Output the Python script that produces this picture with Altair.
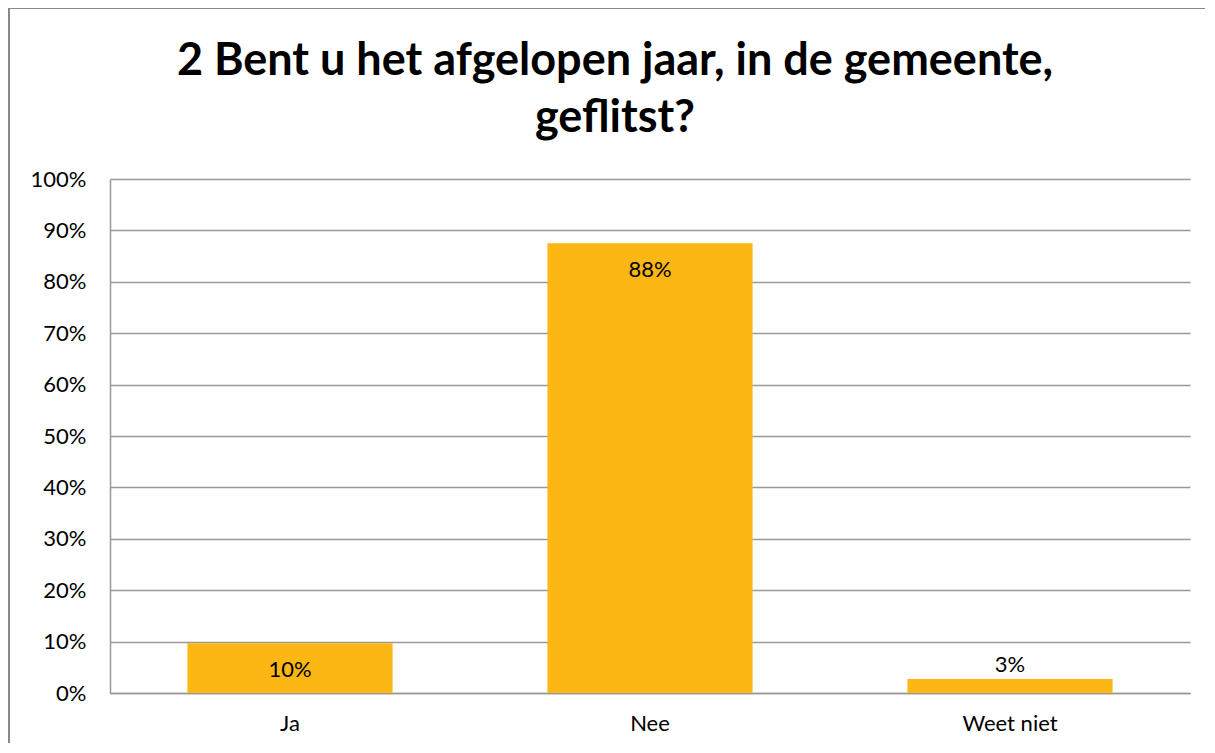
import altair as alt
import pandas as pd

categories = ["Ja", "Nee", "Weet niet"]
values = [0.097, 0.875, 0.027]
labels = ["10%", "88%", "3%"]
title_lines = ["2 Bent u het afgelopen jaar, in de gemeente,", "geflitst?"]

df = pd.DataFrame({"cat": categories, "value": values, "label": labels})

W, H = 1080, 514
FONT = "Lato"
BAR = "#FDB714"

x = alt.X("cat:N", sort=categories, title=None,
          scale=alt.Scale(paddingInner=0.43, paddingOuter=0.215),
          axis=alt.Axis(labelAngle=0, labelFontSize=22, labelFont=FONT, labelColor="#000",
                        labelPadding=20, ticks=False, domainColor="#999", domainWidth=1.5))
y = alt.Y("value:Q", title=None,
          scale=alt.Scale(domain=[0, 1]),
          axis=alt.Axis(format=".0%", values=[i / 10 for i in range(11)], labelFontSize=22,
                        labelFont=FONT, labelColor="#000", labelPadding=24, ticks=False,
                        gridColor="#999", gridWidth=1.5, domainColor="#999", domainWidth=1.5))

base = alt.Chart(df)
bars = base.mark_bar(color=BAR).encode(x=x, y=y)
inside = base.transform_filter("datum.value >= 0.05").mark_text(
    baseline="middle", dy=27, fontSize=22, font=FONT, color="#000").encode(
    x=alt.X("cat:N", sort=categories), y="value:Q", text="label:N")
outside = base.transform_filter("datum.value < 0.05").mark_text(
    baseline="middle", dy=-14, fontSize=22, font=FONT, color="#000").encode(
    x=alt.X("cat:N", sort=categories), y="value:Q", text="label:N")

one = pd.DataFrame({"a": [0]})
frame_left = alt.Chart(one).mark_rule(stroke="#888", strokeWidth=2).encode(
    x=alt.value(-101), y=alt.value(-171), y2=alt.value(H + 100))
frame_top = alt.Chart(one).mark_rule(stroke="#888", strokeWidth=2).encode(
    x=alt.value(-101), x2=alt.value(W + 15), y=alt.value(-171))

title_layers = []
for i, line in enumerate(title_lines):
    title_layers.append(
        alt.Chart(one).mark_text(
            text=line, fontSize=45, font=FONT, fontWeight="bold", color="#000",
            align="center", baseline="alphabetic").encode(
            x=alt.value(W / 2 - 35), y=alt.value(-104 + 57 * i)))

chart = alt.layer(frame_left, frame_top, bars, inside, outside, *title_layers).properties(
    width=W, height=H,
    padding={"left": 102, "top": 171, "right": 15, "bottom": 50},
    autosize=alt.AutoSizeParams(type="none"),
    background="white",
).configure_view(stroke=None)

chart.save("out.html", embed_options={"renderer": "svg", "actions": False})
